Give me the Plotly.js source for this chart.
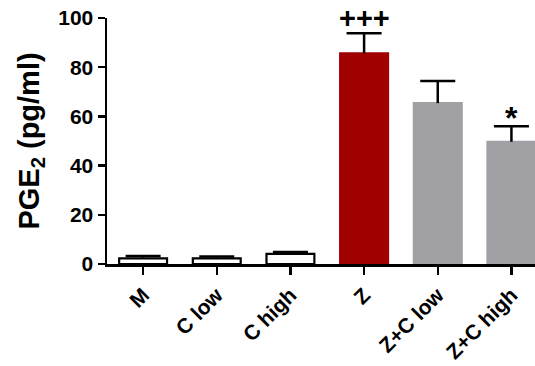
<!DOCTYPE html>
<html>
<head>
<meta charset="utf-8">
<script src="https://cdn.plot.ly/plotly-3.0.1.min.js"></script>
<style>html,body{margin:0;padding:0;background:#fff;}#chart{width:535px;height:366px;}</style>
</head>
<body>
<div id="chart"></div>
<script>
const categories = ["M", "C low", "C high", "Z", "Z+C low", "Z+C high"];
const values = [2.3, 2.3, 4.1, 85.6, 65.4, 49.7];
const errors = [1.0, 0.7, 0.8, 8.2, 9.0, 6.3];
const fillColors = ["#ffffff", "#ffffff", "#ffffff", "#a00000", "#a0a0a5", "#a0a0a5"];
const lineColors = ["#000000", "#000000", "#000000", "#a00000", "#a0a0a5", "#a0a0a5"];
const significance = ["", "", "", "+++", "", "*"];
const yTicks = [0, 20, 40, 60, 80, 100];

const FONT = "Liberation Sans, Arial, sans-serif";

const barTrace = {
  type: "bar",
  x: categories,
  y: values,
  width: 0.65,
  marker: {color: fillColors, line: {color: lineColors, width: 2.2}},
  hoverinfo: "none"
};

// Upward-only error bars: stems (bar top -> bar top + SEM) and caps
const stemX = [], stemY = [];
categories.forEach((c, i) => {
  stemX.push(c, c, null);
  stemY.push(values[i], values[i] + errors[i], null);
});
const stemTrace = {
  type: "scatter", mode: "lines", x: stemX, y: stemY,
  line: {color: "#000", width: 2.5}, hoverinfo: "none", cliponaxis: false
};
const capTrace = {
  type: "scatter", mode: "markers", x: categories,
  y: values.map((v, i) => v + errors[i]),
  marker: {symbol: "line-ew", size: 25, line: {color: "#000", width: 2.5}},
  hoverinfo: "none", cliponaxis: false
};

const annotations = [];
categories.forEach((c, i) => {
  if (significance[i]) {
    const star = significance[i] === "*";
    annotations.push({x: c, y: values[i] + errors[i], xref: "x", yref: "y", text: significance[i],
      showarrow: false, yanchor: "bottom", yshift: star ? -12 : -3,
      font: {family: FONT, size: star ? 32 : 29, color: "#000", weight: 700}});
  }
});

const layout = {
  width: 535, height: 366,
  margin: {l: 107, r: 0, t: 18, b: 102},
  paper_bgcolor: "#fff", plot_bgcolor: "#fff",
  showlegend: false,
  font: {family: FONT, color: "#000"},
  xaxis: {
    type: "category", range: [-0.49, 5.32],
    showline: true, linecolor: "#000", linewidth: 2.5,
    ticks: "outside", ticklen: 8, tickwidth: 2.5, tickcolor: "#000",
    tickangle: -45, tickfont: {size: 21, weight: 700},
    showgrid: false, zeroline: false, fixedrange: true
  },
  yaxis: {
    range: [0, 100], tickvals: yTicks,
    showline: true, linecolor: "#000", linewidth: 2.5,
    ticks: "outside", ticklen: 7, tickwidth: 2.5, tickcolor: "#000",
    tickfont: {size: 21, weight: 700},
    showgrid: false, zeroline: false, fixedrange: true,
    title: {text: "PGE<sub>2</sub> (pg/ml)", font: {size: 29, weight: 700}, standoff: 10}
  },
  annotations: annotations
};

Plotly.newPlot("chart", [barTrace, stemTrace, capTrace], layout, {displayModeBar: false, staticPlot: true});
</script>
</body>
</html>
